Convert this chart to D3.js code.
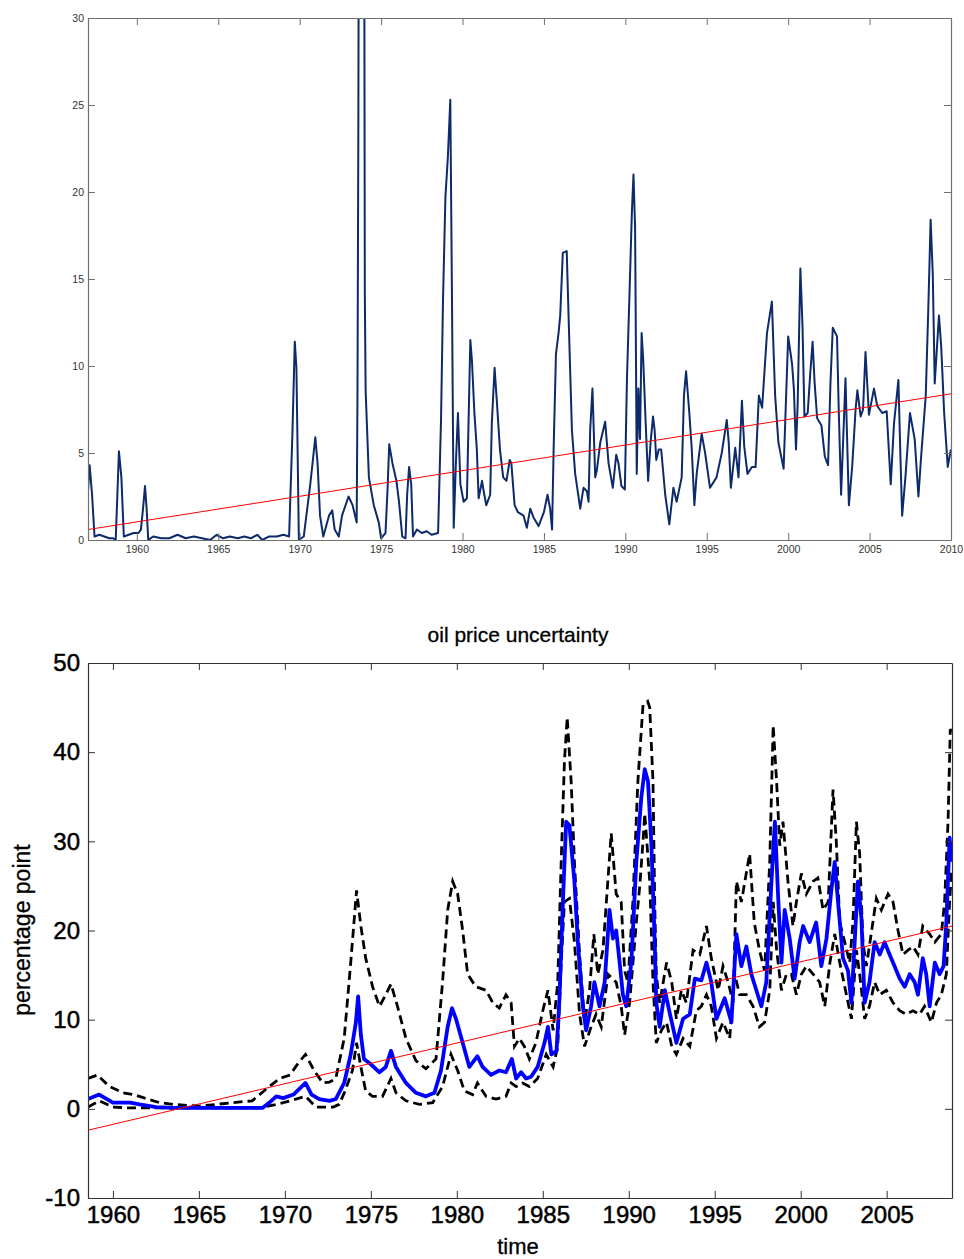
<!DOCTYPE html>
<html>
<head>
<meta charset="utf-8">
<script src="https://cdn.jsdelivr.net/npm/d3@7"></script>
<style>
  body { margin: 0; background: #fff; }
  svg { display: block; font-family: Arial, "Liberation Sans", Helvetica, sans-serif; }
</style>
</head>
<body>
<svg id="chart" width="964" height="1259"></svg>
<script>
// ---- top panel: oil price volatility series (year, value) ----
const topYears = [1957.0, 1957.1, 1957.25, 1957.4, 1957.7, 1958.0, 1958.3, 1958.55, 1958.7, 1958.8, 1958.9, 1959.05, 1959.2, 1959.5, 1959.8, 1960.1, 1960.25, 1960.4, 1960.5, 1960.6, 1960.7, 1961.0, 1961.5, 1962.0, 1962.5, 1963.0, 1963.5, 1964.0, 1964.5, 1964.9, 1965.3, 1965.7, 1966.2, 1966.6, 1967.0, 1967.4, 1967.7, 1968.1, 1968.6, 1969.0, 1969.35, 1969.55, 1969.7, 1969.8, 1969.95, 1970.25, 1970.65, 1970.96, 1971.1, 1971.25, 1971.45, 1971.8, 1972.0, 1972.15, 1972.4, 1972.6, 1973.0, 1973.25, 1973.5, 1973.55, 1973.6, 1973.65, 1973.95, 1974.0, 1974.05, 1974.25, 1974.55, 1974.86, 1975.0, 1975.27, 1975.4, 1975.5, 1975.7, 1975.94, 1976.1, 1976.3, 1976.5, 1976.6, 1976.72, 1976.85, 1976.96, 1977.2, 1977.5, 1977.8, 1978.1, 1978.5, 1978.68, 1978.8, 1978.95, 1979.1, 1979.25, 1979.36, 1979.46, 1979.6, 1979.72, 1979.87, 1980.07, 1980.27, 1980.48, 1980.58, 1980.73, 1980.88, 1980.99, 1981.2, 1981.3, 1981.46, 1981.7, 1981.8, 1981.97, 1982.1, 1982.3, 1982.5, 1982.7, 1982.9, 1983.0, 1983.2, 1983.4, 1983.75, 1983.95, 1984.16, 1984.36, 1984.67, 1985.0, 1985.22, 1985.38, 1985.5, 1985.6, 1985.74, 1985.9, 1986.0, 1986.16, 1986.4, 1986.55, 1986.72, 1986.92, 1987.23, 1987.43, 1987.64, 1987.74, 1987.84, 1987.98, 1988.15, 1988.25, 1988.46, 1988.76, 1988.97, 1989.23, 1989.44, 1989.58, 1989.76, 1989.97, 1990.1, 1990.26, 1990.4, 1990.5, 1990.6, 1990.7, 1990.8, 1990.9, 1991.0, 1991.1, 1991.25, 1991.4, 1991.55, 1991.7, 1991.8, 1991.9, 1992.05, 1992.2, 1992.45, 1992.7, 1992.95, 1993.15, 1993.46, 1993.6, 1993.73, 1993.93, 1994.08, 1994.24, 1994.38, 1994.69, 1994.9, 1995.2, 1995.6, 1995.92, 1996.23, 1996.35, 1996.48, 1996.75, 1996.95, 1997.16, 1997.3, 1997.5, 1997.77, 1998.0, 1998.2, 1998.4, 1998.7, 1999.0, 1999.2, 1999.4, 1999.72, 2000.0, 2000.24, 2000.35, 2000.48, 2000.58, 2000.75, 2000.88, 2001.0, 2001.2, 2001.35, 2001.5, 2001.62, 2001.78, 2002.04, 2002.25, 2002.45, 2002.6, 2002.74, 2003.0, 2003.1, 2003.25, 2003.38, 2003.52, 2003.73, 2003.93, 2004.14, 2004.25, 2004.45, 2004.6, 2004.75, 2004.96, 2005.27, 2005.47, 2005.78, 2006.05, 2006.3, 2006.5, 2006.77, 2006.9, 2007.0, 2007.2, 2007.48, 2007.77, 2008.0, 2008.15, 2008.45, 2008.6, 2008.75, 2008.88, 2009.0, 2009.26, 2009.4, 2009.58, 2009.8, 2009.95, 2010.0];
const topValues = [2.8, 4.3, 2.6, 0.2, 0.3, 0.2, 0.1, 0.1, 0.0, 2.5, 5.1, 3.6, 0.2, 0.3, 0.4, 0.4, 0.6, 2.0, 3.1, 1.8, 0.0, 0.2, 0.1, 0.1, 0.3, 0.1, 0.2, 0.1, 0.0, 0.3, 0.1, 0.2, 0.1, 0.2, 0.1, 0.3, 0.0, 0.2, 0.2, 0.3, 0.2, 6.0, 11.4, 9.9, 0.0, 0.2, 3.2, 5.9, 4.4, 1.4, 0.2, 1.4, 1.7, 0.6, 0.2, 1.4, 2.5, 2.0, 1.0, 8.3, 22.7, 45, 45, 14.3, 8.6, 3.6, 2.0, 1.0, 0.1, 0.4, 3.0, 5.5, 4.4, 3.4, 2.2, 0.2, 0.1, 2.6, 4.2, 3.2, 0.2, 0.6, 0.4, 0.5, 0.3, 0.4, 6.9, 13.7, 19.7, 22.0, 25.3, 13.1, 0.7, 4.6, 7.3, 3.2, 2.2, 2.4, 11.5, 10.3, 7.3, 5.2, 2.4, 3.4, 2.8, 2.0, 2.6, 6.7, 9.9, 8.1, 5.2, 3.6, 3.4, 4.6, 4.4, 2.0, 1.6, 1.4, 0.7, 1.8, 1.3, 0.8, 1.6, 2.6, 1.8, 0.6, 5.4, 10.7, 11.9, 12.9, 16.5, 16.6, 11.7, 6.3, 3.8, 1.8, 3.0, 2.8, 2.2, 6.3, 8.7, 3.6, 4.0, 5.6, 6.8, 4.4, 3.0, 4.9, 4.4, 3.1, 2.9, 9.3, 14.3, 18.8, 21.0, 17.9, 3.8, 8.7, 5.8, 11.9, 10.3, 6.7, 3.4, 5.6, 7.1, 6.3, 4.6, 5.2, 5.2, 2.6, 0.9, 3.0, 2.2, 3.6, 8.3, 9.7, 7.3, 5.2, 2.0, 3.8, 6.1, 5.0, 3.0, 3.6, 5.0, 6.9, 5.6, 3.0, 5.3, 3.6, 8.0, 5.4, 3.8, 4.2, 4.2, 8.3, 7.6, 11.9, 13.7, 8.3, 5.6, 4.1, 11.7, 10.1, 8.7, 5.2, 7.7, 15.6, 12.3, 7.1, 7.3, 9.5, 11.4, 9.1, 7.0, 6.6, 4.8, 4.3, 9.1, 12.2, 11.7, 7.7, 2.6, 5.8, 9.3, 2.0, 4.2, 7.5, 8.6, 7.1, 7.5, 10.8, 7.2, 8.7, 7.7, 7.3, 7.4, 3.2, 6.7, 9.2, 4.6, 1.4, 3.6, 7.3, 5.8, 2.5, 4.6, 8.3, 13.1, 18.4, 15.3, 9.0, 12.9, 11.1, 7.3, 4.2, 5.0, 5.2];
const topTrendYears = [1957, 2010];
const topTrendValues = [0.6, 8.4];
const topXTicks = [1960, 1965, 1970, 1975, 1980, 1985, 1990, 1995, 2000, 2005, 2010];
const topYTicks = [0, 5, 10, 15, 20, 25, 30];

// ---- bottom panel: oil price uncertainty, mean and bands ----
const midYears = [1958.55, 1959.2, 1960.0, 1961.0, 1961.55, 1962.5, 1963.5, 1965.0, 1967.0, 1968.7, 1969.1, 1969.5, 1969.9, 1970.5, 1971.2, 1971.55, 1972.0, 1972.6, 1972.96, 1973.45, 1973.83, 1974.13, 1974.26, 1974.42, 1974.6, 1975.0, 1975.5, 1975.87, 1976.17, 1976.46, 1977.04, 1977.62, 1978.2, 1978.7, 1979.08, 1979.47, 1979.72, 1979.95, 1980.34, 1980.73, 1981.2, 1981.5, 1981.99, 1982.47, 1982.86, 1983.2, 1983.45, 1983.74, 1984.03, 1984.32, 1984.7, 1985.1, 1985.3, 1985.5, 1985.8, 1985.97, 1986.17, 1986.36, 1986.55, 1986.84, 1987.04, 1987.33, 1987.52, 1987.81, 1988.0, 1988.3, 1988.6, 1988.88, 1989.08, 1989.27, 1989.47, 1989.66, 1989.85, 1990.15, 1990.44, 1990.73, 1990.93, 1991.12, 1991.32, 1991.51, 1991.6, 1991.8, 1992.1, 1992.4, 1992.77, 1993.16, 1993.55, 1993.84, 1994.22, 1994.52, 1994.8, 1995.1, 1995.58, 1995.97, 1996.26, 1996.55, 1996.84, 1997.13, 1997.42, 1997.71, 1998.0, 1998.3, 1998.5, 1998.68, 1998.88, 1999.07, 1999.36, 1999.65, 1999.94, 2000.14, 2000.52, 2000.9, 2001.2, 2001.5, 2001.78, 2001.98, 2002.17, 2002.46, 2002.75, 2002.95, 2003.14, 2003.33, 2003.53, 2003.72, 2004.0, 2004.3, 2004.6, 2004.88, 2005.17, 2005.46, 2005.76, 2006.05, 2006.34, 2006.63, 2006.82, 2007.1, 2007.3, 2007.5, 2007.8, 2008.08, 2008.31, 2008.47, 2008.66, 2008.78];
const midValues = [1.1, 1.6, 0.7, 0.7, 0.5, 0.2, 0.1, 0.1, 0.1, 0.1, 0.7, 1.4, 1.2, 1.6, 2.9, 1.6, 1.1, 0.9, 1.1, 2.9, 6.1, 9.7, 12.6, 8.3, 5.6, 5.0, 4.1, 4.7, 6.5, 4.7, 2.9, 1.8, 1.4, 1.8, 4.3, 9.2, 11.3, 10.1, 7.4, 4.7, 5.9, 4.7, 3.8, 4.3, 4.1, 5.6, 3.4, 4.1, 3.4, 3.6, 4.7, 7.4, 9.2, 6.1, 6.5, 12.4, 23.2, 32.2, 31.8, 25.5, 18.7, 11.5, 8.8, 11.5, 14.2, 11.5, 14.2, 22.3, 19.1, 20.0, 16.4, 12.8, 11.5, 16.4, 27.7, 34.9, 38.1, 36.7, 29.5, 18.7, 11.9, 9.2, 13.3, 10.6, 7.4, 10.1, 10.6, 14.6, 14.4, 16.4, 14.2, 10.1, 12.4, 9.7, 19.6, 16.0, 18.2, 15.1, 13.3, 11.5, 14.2, 25.5, 32.2, 24.1, 16.4, 22.3, 19.1, 14.6, 18.7, 20.5, 18.7, 20.9, 16.0, 19.1, 24.5, 27.7, 23.2, 16.9, 15.5, 11.9, 18.7, 25.5, 21.4, 11.9, 14.2, 18.7, 17.3, 18.7, 17.3, 16.0, 14.6, 13.7, 15.1, 14.2, 12.8, 16.9, 15.1, 11.5, 16.4, 15.1, 16.0, 20.9, 30.4, 27.7];

const upperYears = [1958.55, 1959.1, 1959.8, 1960.6, 1961.2, 1962.0, 1962.7, 1963.5, 1965.0, 1967.0, 1968.1, 1968.9, 1969.7, 1970.3, 1970.8, 1971.2, 1971.7, 1972.2, 1972.6, 1972.96, 1973.45, 1973.83, 1974.17, 1974.42, 1974.7, 1975.1, 1975.5, 1975.87, 1976.17, 1976.55, 1977.04, 1977.62, 1978.2, 1978.79, 1979.17, 1979.47, 1979.76, 1980.05, 1980.34, 1980.63, 1981.1, 1981.7, 1982.09, 1982.47, 1982.86, 1983.16, 1983.35, 1983.64, 1983.93, 1984.22, 1984.6, 1985.0, 1985.3, 1985.6, 1985.87, 1986.07, 1986.26, 1986.42, 1986.65, 1986.84, 1987.14, 1987.43, 1987.72, 1987.97, 1988.2, 1988.5, 1988.98, 1989.27, 1989.56, 1989.76, 1989.95, 1990.24, 1990.53, 1990.83, 1991.1, 1991.22, 1991.41, 1991.51, 1991.6, 1991.8, 1992.2, 1992.5, 1992.77, 1993.06, 1993.35, 1993.74, 1994.13, 1994.52, 1994.8, 1995.2, 1995.48, 1995.78, 1996.07, 1996.26, 1996.55, 1997.03, 1997.3, 1997.6, 1997.9, 1998.2, 1998.4, 1998.6, 1998.78, 1998.97, 1999.26, 1999.55, 1999.75, 2000.04, 2000.33, 2000.72, 2001.0, 2001.3, 2001.6, 2001.88, 2002.07, 2002.27, 2002.56, 2002.85, 2003.04, 2003.24, 2003.43, 2003.62, 2003.82, 2004.1, 2004.4, 2004.69, 2005.08, 2005.37, 2005.66, 2005.95, 2006.24, 2006.53, 2006.82, 2007.1, 2007.5, 2007.8, 2008.18, 2008.37, 2008.57, 2008.7, 2008.78];
const upperValues = [3.4, 3.8, 2.5, 1.8, 1.6, 1.1, 0.7, 0.5, 0.3, 0.7, 0.9, 2.2, 3.4, 3.8, 5.2, 6.1, 4.3, 2.9, 3.0, 3.4, 7.9, 16.4, 24.5, 20.5, 16.9, 13.7, 11.5, 12.8, 14.0, 11.5, 7.9, 5.4, 4.5, 5.6, 14.2, 22.3, 25.5, 24.1, 20.0, 15.1, 13.7, 13.3, 11.9, 11.3, 12.8, 11.9, 7.0, 7.9, 7.0, 5.6, 7.4, 11.0, 13.3, 8.8, 14.2, 27.7, 39.0, 43.9, 36.7, 27.7, 17.3, 9.7, 13.3, 19.6, 15.1, 17.8, 30.9, 24.1, 23.2, 15.5, 14.2, 23.2, 36.7, 45.3, 45.7, 45.0, 36.7, 23.2, 15.1, 11.9, 16.4, 14.2, 10.1, 13.3, 11.9, 17.8, 17.3, 20.5, 16.9, 13.3, 16.0, 14.2, 11.9, 25.5, 23.2, 28.6, 20.9, 17.8, 15.5, 27.7, 43.0, 36.7, 29.5, 32.2, 25.5, 20.5, 23.2, 26.4, 24.1, 25.5, 25.9, 22.3, 23.2, 35.8, 30.0, 20.9, 18.7, 16.4, 20.9, 32.2, 28.6, 18.7, 16.0, 19.6, 23.6, 22.3, 24.1, 23.2, 20.0, 17.3, 17.8, 18.2, 17.3, 20.5, 19.6, 18.7, 19.6, 23.2, 32.2, 42.6, 42.1];

const lowerYears = [1958.55, 1959.2, 1960.0, 1961.0, 1963.0, 1965.0, 1967.0, 1968.5, 1969.5, 1970.3, 1971.2, 1971.8, 1972.8, 1973.16, 1973.5, 1973.93, 1974.17, 1974.42, 1974.7, 1975.1, 1975.68, 1976.17, 1976.46, 1977.04, 1977.82, 1978.6, 1979.17, 1979.66, 1980.05, 1980.44, 1980.92, 1981.2, 1981.7, 1982.28, 1982.86, 1983.16, 1983.45, 1983.83, 1984.22, 1984.7, 1985.2, 1985.6, 1985.87, 1986.07, 1986.26, 1986.55, 1986.84, 1987.14, 1987.43, 1987.81, 1988.1, 1988.4, 1988.79, 1989.27, 1989.56, 1989.76, 1990.05, 1990.44, 1990.64, 1990.83, 1990.93, 1991.22, 1991.41, 1991.6, 1991.9, 1992.2, 1992.5, 1992.77, 1993.16, 1993.55, 1993.93, 1994.22, 1994.52, 1994.8, 1995.1, 1995.48, 1995.87, 1996.16, 1996.45, 1996.84, 1997.23, 1997.6, 1997.9, 1998.2, 1998.4, 1998.6, 1998.88, 1999.17, 1999.46, 1999.75, 2000.04, 2000.33, 2000.72, 2001.1, 2001.4, 2001.7, 2001.98, 2002.27, 2002.66, 2002.95, 2003.24, 2003.43, 2003.72, 2004.0, 2004.3, 2004.6, 2004.98, 2005.37, 2005.76, 2006.14, 2006.53, 2006.92, 2007.2, 2007.6, 2007.9, 2008.18, 2008.47, 2008.66, 2008.78];
const lowerValues = [0.2, 0.9, 0.2, 0.1, 0.1, 0.1, 0.1, 0.1, 0.5, 0.9, 1.4, 0.2, 0.2, 0.5, 2.0, 4.3, 7.4, 4.7, 2.0, 1.4, 1.4, 3.4, 1.8, 0.9, 0.5, 0.7, 2.5, 6.1, 4.3, 2.0, 1.6, 2.9, 1.4, 1.1, 1.4, 2.9, 2.5, 2.9, 2.5, 3.4, 6.1, 4.7, 7.0, 16.4, 23.2, 23.6, 18.7, 10.6, 7.0, 9.2, 10.6, 9.2, 15.1, 14.2, 11.5, 8.3, 11.9, 20.9, 25.0, 30.0, 33.1, 25.5, 14.2, 7.4, 8.8, 9.7, 7.0, 6.1, 7.9, 7.0, 11.0, 11.5, 12.8, 11.5, 7.9, 9.7, 7.9, 15.1, 12.8, 12.8, 11.5, 9.2, 9.7, 13.3, 23.2, 17.8, 13.3, 15.1, 15.1, 12.8, 15.1, 16.0, 15.1, 14.2, 11.5, 16.4, 19.6, 16.4, 12.8, 10.1, 17.8, 15.1, 10.1, 11.5, 14.2, 12.8, 13.3, 11.9, 11.0, 10.6, 11.0, 10.6, 11.5, 9.7, 11.9, 12.8, 15.1, 23.2, 26.8];

const bottomTrendYears = [1958.55, 2008.8];
const bottomTrendValues = [-2.4, 20.5];
const bottomXTicks = [1960, 1965, 1970, 1975, 1980, 1985, 1990, 1995, 2000, 2005];
const bottomYTicks = [-10, 0, 10, 20, 30, 40, 50];

const svg = d3.select('#chart');

function pairs(xs, ys) {
    return xs.map((x, i) => [x, ys[i]]);
}

// draws a MATLAB-like boxed axes with inward ticks on all four sides
function drawFrame(g, x, y, xTicks, yTicks, opts) {
    const [x0, x1] = x.range();
    const [y0, y1] = y.range(); // y0 bottom, y1 top

    const bottomAxis = d3.axisBottom(x).tickValues(xTicks).tickFormat(d3.format('d'))
        .tickSizeInner(-opts.tick).tickSizeOuter(0).tickPadding(opts.xPad);
    const topAxis = d3.axisTop(x).tickValues(xTicks).tickFormat('')
        .tickSizeInner(-opts.tick).tickSizeOuter(0);
    const leftAxis = d3.axisLeft(y).tickValues(yTicks).tickFormat(d => d3.format('d')(d).replace('\u2212', '-'))
        .tickSizeInner(-opts.tick).tickSizeOuter(0).tickPadding(opts.yPad);
    const rightAxis = d3.axisRight(y).tickValues(yTicks).tickFormat('')
        .tickSizeInner(-opts.tick).tickSizeOuter(0);

    const parts = [
        g.append('g').attr('transform', `translate(0,${y0})`).call(bottomAxis),
        g.append('g').attr('transform', `translate(0,${y1})`).call(topAxis),
        g.append('g').attr('transform', `translate(${x0},0)`).call(leftAxis),
        g.append('g').attr('transform', `translate(${x1},0)`).call(rightAxis)
    ];
    parts.forEach(p => {
        p.select('.domain').attr('stroke', opts.axisColor).attr('stroke-width', 1.2);
        p.selectAll('.tick line').attr('stroke', opts.axisColor).attr('stroke-width', 1);
        p.selectAll('.tick text')
            .attr('fill', opts.textColor)
            .attr('stroke', opts.textStroke || 'none')
            .attr('stroke-width', 0.5)
            .style('font-size', opts.fontSize + 'px')
            .style('font-family', 'Arial, "Liberation Sans", sans-serif');
    });
}

// ---------------- top panel ----------------
const topX = d3.scaleLinear().domain([1957, 2010]).range([88, 951]);
const topY = d3.scaleLinear().domain([0, 30]).range([540, 18]);

svg.append('clipPath').attr('id', 'clip-top')
    .append('rect').attr('x', 88).attr('y', 18).attr('width', 863).attr('height', 522);

const topG = svg.append('g');
const topLine = d3.line().x(d => topX(d[0])).y(d => topY(d[1]));

topG.append('path')
    .datum(pairs(topYears, topValues))
    .attr('clip-path', 'url(#clip-top)')
    .attr('fill', 'none')
    .attr('stroke', '#0d2a6b')
    .attr('stroke-width', 2)
    .attr('stroke-linejoin', 'round')
    .attr('d', topLine);

topG.append('path')
    .datum(pairs(topTrendYears, topTrendValues))
    .attr('fill', 'none')
    .attr('stroke', '#ff0000')
    .attr('stroke-width', 1)
    .attr('d', topLine);

drawFrame(topG, topX, topY, topXTicks, topYTicks,
    { tick: 7, xPad: 6, yPad: 4, axisColor: '#707070', textColor: '#333', fontSize: 10.5 });

// ---------------- bottom panel ----------------
const botX = d3.scaleLinear().domain([1958.55, 2008.8]).range([88, 952]);
const botY = d3.scaleLinear().domain([-10, 50]).range([1198, 663]);

svg.append('clipPath').attr('id', 'clip-bot')
    .append('rect').attr('x', 88).attr('y', 663).attr('width', 864).attr('height', 535);

const botG = svg.append('g');
const botLine = d3.line().x(d => botX(d[0])).y(d => botY(d[1]));

[[upperYears, upperValues], [lowerYears, lowerValues]].forEach(([xs, ys]) => {
    botG.append('path')
        .datum(pairs(xs, ys))
        .attr('clip-path', 'url(#clip-bot)')
        .attr('fill', 'none')
        .attr('stroke', '#000')
        .attr('stroke-width', 2.8)
        .attr('stroke-dasharray', '9,5')
        .attr('d', botLine);
});

botG.append('path')
    .datum(pairs(midYears, midValues))
    .attr('clip-path', 'url(#clip-bot)')
    .attr('fill', 'none')
    .attr('stroke', '#0000ff')
    .attr('stroke-width', 3.8)
    .attr('stroke-linejoin', 'round')
    .attr('d', botLine);

botG.append('path')
    .datum(pairs(bottomTrendYears, bottomTrendValues))
    .attr('fill', 'none')
    .attr('stroke', '#ff0000')
    .attr('stroke-width', 1)
    .attr('d', botLine);

drawFrame(botG, botX, botY, bottomXTicks, bottomYTicks,
    { tick: 7, xPad: 8, yPad: 8, axisColor: '#333', textColor: '#000', textStroke: '#000', fontSize: 24 });

// titles and labels
svg.append('text')
    .attr('x', 518).attr('y', 642)
    .attr('text-anchor', 'middle')
    .attr('stroke', '#000').attr('stroke-width', 0.3)
    .style('font-size', '21px')
    .text('oil price uncertainty');

svg.append('text')
    .attr('x', 518).attr('y', 1254)
    .attr('text-anchor', 'middle')
    .attr('stroke', '#000').attr('stroke-width', 0.3)
    .style('font-size', '22px')
    .text('time');

svg.append('text')
    .attr('transform', 'translate(30,930) rotate(-90)')
    .attr('text-anchor', 'middle')
    .attr('stroke', '#000').attr('stroke-width', 0.3)
    .style('font-size', '23px')
    .text('percentage point');
</script>
</body>
</html>
